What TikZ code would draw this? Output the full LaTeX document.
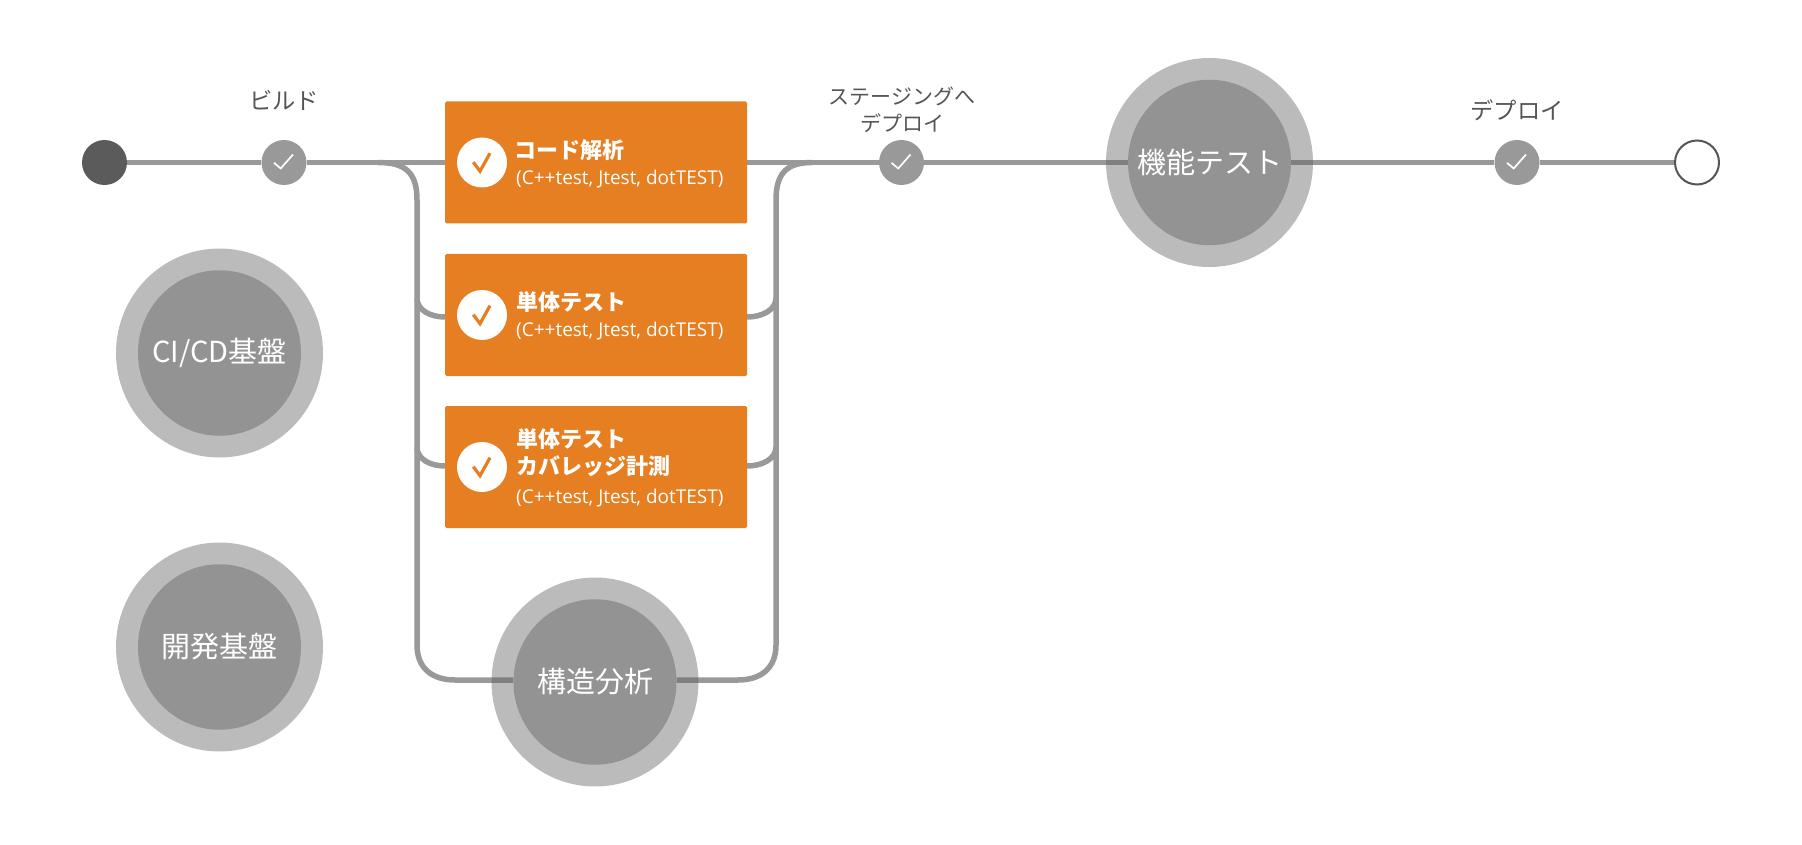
\documentclass[tikz,border=0pt]{standalone}
\usepackage{fontspec}
\setmainfont{Noto Sans CJK JP}
\newfontfamily\latinfont{Open Sans}
\usetikzlibrary{backgrounds, shapes.geometric}
\definecolor{pipegray}{HTML}{999999}
\definecolor{coregray}{HTML}{939393}
\definecolor{ringgray}{HTML}{5D5D5D}
\definecolor{inkgray}{HTML}{555555}
\definecolor{startgray}{HTML}{5B5B5B}
\definecolor{boxorange}{HTML}{E67E22}
\tikzset{
    pipe/.style={line width=5.5pt, pipegray},
    stepdot/.style={circle, fill=pipegray, minimum size=45pt, inner sep=0pt,
        path picture={\draw[white, line width=1.7pt]
            ([shift={(-10pt,-0.3pt)}]path picture bounding box.center) -- ++(6.7pt,-5.7pt) -- ++(12.3pt,14pt);}},
    taskdot/.style={circle, fill=white, minimum size=50pt, inner sep=0pt,
        path picture={\draw[boxorange, line width=3.2pt]
            ([shift={(-8.7pt,0.3pt)}]path picture bounding box.center) -- ++(6.7pt,-9pt) -- ++(10pt,18pt);}},
    taskbox/.style={fill=boxorange, rounded corners=1.5pt, minimum width=302pt, minimum height=122pt, inner sep=0pt},
    ring/.style={ellipse, fill=ringgray, fill opacity=0.42, minimum width=207pt, minimum height=209pt, inner sep=0pt},
    core/.style={ellipse, fill=coregray, minimum width=163pt, minimum height=165.5pt, inner sep=0pt},
    corelabel/.style={text=white, inner sep=0pt, font=\fontsize{29}{32}\selectfont},
    steplabel/.style={text=inkgray, align=center, inner sep=0pt, font=\fontsize{23.3}{27}\selectfont},
    tasktitle/.style={text=white, anchor=west, align=left, inner sep=0pt, font=\fontsize{22}{27}\selectfont\bfseries},
    tasksub/.style={text=white, anchor=west, inner sep=0pt, font=\latinfont\fontsize{19}{22}\selectfont}
}
\begin{document}
\begin{tikzpicture}[x=1pt, y=-1pt]
    \useasboundingbox (0,0) rectangle (1802,845);

    % Big circles
    \foreach \name/\x/\y/\txt in {cicd/219.5/353/{CI/CD基盤}, dev/219.5/647/開発基盤,
        static/595/682/構造分析, functest/1209.5/162.5/機能テスト} {
        \node[ring] (\name ring) at (\x,\y) {};
        \node[core] (\name) at (\x,\y) {};
        \node[corelabel] (\name label) at (\x,\y) {\txt};
    }

    % Steps on the main line
    \node[circle, fill=startgray, minimum size=45pt, inner sep=0pt] (start) at (104.5,162.5) {};
    \node[stepdot] (build) at (284,162.5) {};
    \node[stepdot] (staging) at (901.5,162.5) {};
    \node[stepdot] (deploy) at (1517,162.5) {};
    \node[circle, draw=inkgray, fill=white, line width=2pt, minimum size=44pt, inner sep=0pt] (finish) at (1697,162.5) {};

    % Step labels
    \node[steplabel] (buildlabel) at (284,100) {ビルド};
    \node[steplabel, font=\fontsize{21}{27}\selectfont] (staginglabel) at (902,110) {ステージングへ\\デプロイ};
    \node[steplabel] (deploylabel) at (1517,110) {デプロイ};

    % Task boxes
    \foreach \name/\y in {analysis/162.5, unit/315, coverage/467} {
        \node[taskbox] (\name) at (596,\y) {};
        \node[taskdot] (\name dot) at (482,\y) {};
    }
    \node[tasktitle] (analysistitle) at (514,150.5) {コード解析};
    \node[tasksub] (analysissub) at (516,179.5) {(C++test, Jtest, dotTEST)};
    \node[tasktitle] (unittitle) at (516,302) {単体テスト};
    \node[tasksub] (unitsub) at (516,331.5) {(C++test, Jtest, dotTEST)};
    \node[tasktitle] (coveragetitle) at (516,453) {単体テスト\\カバレッジ計測};
    \node[tasksub] (coveragesub) at (516,498.5) {(C++test, Jtest, dotTEST)};

    % Branch points
    \coordinate (forkin) at (378,162.5);
    \coordinate (forkout) at (812,162.5);
    \coordinate (lefttop) at (417,200);
    \coordinate (righttop) at (776,200);
    \coordinate (leftbottom) at (417,645);
    \coordinate (rightbottom) at (776,645);

    % Connectors go behind the rings
    \begin{pgfonlayer}{background}
        \draw[pipe] (start) -- (build) -- (analysis) (analysis) -- (staging) -- (functest) -- (deploy) -- (finish);
        \draw[pipe] (forkin) .. controls (405,162.5) and (417,172) .. (lefttop) -- (leftbottom)
            .. controls (417,668) and (432,680) .. (455,680) -- (static.west |- 0,680);
        \draw[pipe] (forkout) .. controls (788,162.5) and (776,172) .. (righttop) -- (rightbottom)
            .. controls (776,668) and (761,680) .. (738,680) -- (static.east |- 0,680);
        \draw[pipe] (417,298) .. controls (417,310) and (430,317) .. (445,317);
        \draw[pipe] (417,447) .. controls (417,459) and (430,466) .. (445,466);
        \draw[pipe] (776,298) .. controls (776,310) and (762,317) .. (747,317);
        \draw[pipe] (776,447) .. controls (776,459) and (762,466) .. (747,466);
    \end{pgfonlayer}
\end{tikzpicture}
\end{document}
